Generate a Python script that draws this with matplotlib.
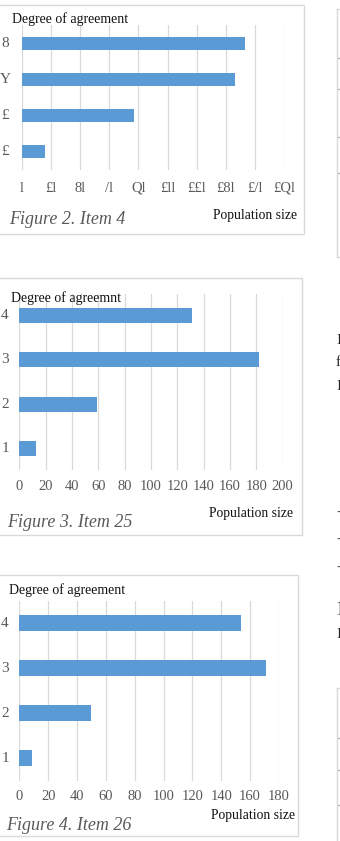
import matplotlib
matplotlib.use("Agg")
import matplotlib.pyplot as plt
from matplotlib.patches import Rectangle
from matplotlib.lines import Line2D

W, H = 340, 841

# ---- data ----
categories = [1, 2, 3, 4]
# Figure 2 (garbled glyph labels as printed in the source)
fig2_values = [16, 77, 146, 153]
fig2_ylabels = ["£", "£", "Y", "8"]
fig2_xticks = [0, 20, 40, 60, 80, 100, 120, 140, 160, 180]
fig2_xticklabels = ["l", "£l", "8l", "/l", "Ql", "£ll", "££l", "£8l", "£/l", "£Ql"]
# Figure 3
fig3_values = [13, 59, 182, 131]
fig3_ylabels = ["1", "2", "3", "4"]
fig3_xticks = [0, 20, 40, 60, 80, 100, 120, 140, 160, 180, 200]
# Figure 4
fig4_values = [9, 50, 171, 154]
fig4_ylabels = ["1", "2", "3", "4"]
fig4_xticks = [0, 20, 40, 60, 80, 100, 120, 140, 160, 180]

BAR = "#5B9BD5"
GRID = "#D9D9D9"
TICK = "#595959"
SERIF = ["Liberation Serif", "DejaVu Serif"]

fig = plt.figure(figsize=(W / 100, H / 100), dpi=100)
fig.patch.set_facecolor("white")


def fx(x):
    return x / W


def fy(y):
    return 1 - y / H


def ftext(x, y, s, **kw):
    kw.setdefault("family", SERIF)
    fig.text(fx(x), fy(y), s, **kw)


def box(x0, y0, x1, y1):
    fig.patches.append(Rectangle((fx(x0), fy(y1)), fx(x1) - fx(x0), fy(y0) - fy(y1),
                                 transform=fig.transFigure, fill=False,
                                 edgecolor=GRID, linewidth=1.0))


def chart(left, right, top, bottom, values, ylabels, xticks, xticklabels,
          tick_y, ylab_x, bar_h, title, yl_text, yl_xy, pop_xy, fig_xy):
    ax = fig.add_axes([fx(left), fy(bottom), fx(right) - fx(left), fy(top) - fy(bottom)])
    ax.barh(categories, values, height=bar_h, color=BAR, zorder=3)
    ax.set_xlim(xticks[0], xticks[-1])
    ax.set_ylim(0.5, 4.5)
    ax.set_xticks(xticks)
    for t in xticks:
        ax.axvline(t, color=GRID, linewidth=0.9, zorder=1)
    for s in ax.spines.values():
        s.set_visible(False)
    ax.set_xticklabels([])
    ax.set_yticks([])
    ax.tick_params(length=0)
    # x tick labels
    for t, lab in zip(xticks, xticklabels):
        xp = left + (t - xticks[0]) / (xticks[-1] - xticks[0]) * (right - left)
        ftext(xp, tick_y, lab, ha="center", va="center", fontsize=10.5, color=TICK)
    # y tick labels
    for c, lab in zip(categories, ylabels):
        yp = bottom - (c - 0.5) / 4 * (bottom - top)
        ftext(ylab_x, yp, lab, ha="center", va="center", fontsize=11, color=TICK)
    ftext(yl_xy[0], yl_xy[1], yl_text, ha="left", va="center", fontsize=10, color="#111111")
    ftext(pop_xy[0], pop_xy[1], "Population size", ha="right", va="center",
          fontsize=9.8, color="#111111")
    ftext(fig_xy[0], fig_xy[1], title, ha="left", va="center", fontsize=13,
          style="italic", color="#595959")
    return ax


# Figure 2
box(-2, 5, 304, 234)
chart(21.7, 284.3, 25.3, 169.7, fig2_values, fig2_ylabels, fig2_xticks, fig2_xticklabels,
      188, 5, 0.35, "Figure 2. Item 4", "Degree of agreement", (12, 19.5),
      (297, 215), (9, 220))

# Figure 3
box(-2, 278, 302, 535)
chart(19.3, 282.7, 293.6, 470.4, fig3_values, fig3_ylabels, fig3_xticks,
      [str(v) for v in fig3_xticks], 486.7, 5, 0.34, "Figure 3. Item 25",
      "Degree of agreemnt", (11, 297.7), (293, 513), (7, 522.7))

# Figure 4
box(-2, 575, 298, 836)
chart(19.3, 279, 600.8, 780.8, fig4_values, fig4_ylabels, fig4_xticks,
      [str(v) for v in fig4_xticks], 796.7, 5, 0.35, "Figure 4. Item 26",
      "Degree of agreement", (9, 590), (295, 815), (6, 825.7))

# ---- fragments of the neighbouring page column ----
def fline(xs, ys, color=GRID):
    fig.lines.append(Line2D([fx(v) for v in xs], [fy(v) for v in ys],
                            transform=fig.transFigure, color=color, linewidth=1.0))


fline([336.5, 336.5], [9, 257])
fline([336.5, 341], [9, 9])
fline([336.5, 341], [257, 257])
for yy in [58, 89, 137, 173]:
    fline([338, 340], [yy, yy], "#BBBBBB")
fline([336.5, 336.5], [688, 842])
fline([336.5, 341], [688, 688])
for yy in [738, 770, 805]:
    fline([338, 340], [yy, yy], "#BBBBBB")
for yy, s in [(340, "I"), (363, "f"), (387, "I"), (608, "]"), (635, "I")]:
    ftext(336, yy, s, ha="left", va="center", fontsize=11, color="#222222")
for yy in [512, 539, 567]:
    ftext(336, yy, "-", ha="left", va="center", fontsize=11, color="#555555")

fig.savefig("out.png", dpi=100, facecolor="white")
